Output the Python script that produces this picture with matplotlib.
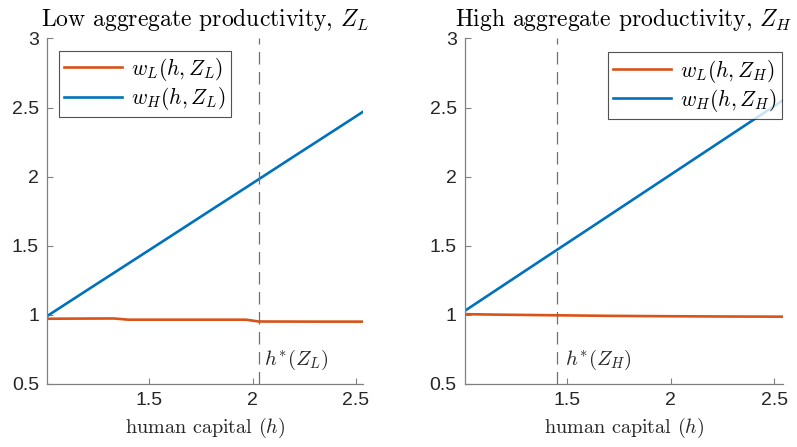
import matplotlib
matplotlib.use("Agg")
import matplotlib.pyplot as plt

plt.rcParams['mathtext.fontset'] = 'cm'
plt.rcParams['axes.formatter.use_mathtext'] = True

# Human capital grids and wages, low aggregate productivity
h_low_L = [1.007, 1.15, 1.33, 1.40, 1.70, 1.97, 2.03, 2.30, 2.534]
wL_low = [0.972, 0.973, 0.974, 0.965, 0.965, 0.965, 0.952, 0.951, 0.951]
h_low_H = [1.007, 1.2, 1.4, 1.6, 1.8, 2.0, 2.2, 2.4, 2.534]
wH_low = [0.992, 1.179, 1.372, 1.565, 1.759, 1.952, 2.146, 2.339, 2.469]
hstar_low = 2.032

# Human capital grids and wages, high aggregate productivity
h_high_L = [1.01, 1.2, 1.45, 1.7, 2.0, 2.3, 2.543]
wL_high = [1.005, 1.001, 0.997, 0.993, 0.990, 0.988, 0.987]
h_high_H = [1.01, 1.2, 1.4, 1.6, 1.8, 2.0, 2.2, 2.4, 2.543]
wH_high = [1.030, 1.219, 1.418, 1.616, 1.815, 2.014, 2.213, 2.412, 2.554]
hstar_high = 1.455

yticks = [0.5, 1, 1.5, 2, 2.5, 3]
xticks = [1.5, 2, 2.5]

ORANGE = '#D95319'
BLUE = '#0072BD'
AXC = '#808080'
TXT = '#262626'

fig = plt.figure(figsize=(7.97, 4.47), dpi=100)
ax1 = fig.add_axes([0.0593, 0.141, 0.396, 0.773])
ax2 = fig.add_axes([0.5834, 0.141, 0.3994, 0.773])

panels = [
    (ax1, h_low_L, wL_low, h_low_H, wH_low, hstar_low, 'L', 'Low', 'upper left', (1.007, 2.534)),
    (ax2, h_high_L, wL_high, h_high_H, wH_high, hstar_high, 'H', 'High', 'upper right', (1.01, 2.543)),
]

for ax, hl, wl, hh, wh, hs, z, name, loc, xl in panels:
    ax.plot(hl, wl, color=ORANGE, lw=1.9, label=r'$w_L(h,Z_%s)$' % z)
    ax.plot(hh, wh, color=BLUE, lw=1.9, label=r'$w_H(h,Z_%s)$' % z)
    ax.axvline(hs, color='#707070', lw=0.9, dashes=(10, 6))
    ax.text(hs + 0.025 if z == 'L' else hs + 0.035, 0.64, r'$h^{*}(Z_%s)$' % z,
            fontsize=15, color=TXT, ha='left', va='baseline')
    ax.set_xlim(*xl)
    ax.set_ylim(0.5, 3)
    ax.set_yticks(yticks)
    ax.set_yticklabels(['0.5', '1', '1.5', '2', '2.5', '3'])
    ax.set_xticks(xticks)
    ax.set_xticklabels(['1.5', '2', '2.5'])
    for s in ['top', 'right']:
        ax.spines[s].set_visible(False)
    for s in ['left', 'bottom']:
        ax.spines[s].set_color(AXC)
        ax.spines[s].set_linewidth(0.9)
    ax.tick_params(direction='in', length=4, width=0.8, color=AXC,
                   labelsize=14, labelcolor=TXT, pad=6)
    for lab in ax.get_xticklabels() + ax.get_yticklabels():
        lab.set_family('Liberation Sans')
    ax.set_title(r'%s aggregate productivity, $Z_%s$' % (name, z),
                 family='cmr10', fontsize=17, color='black', pad=9)
    ax.set_xlabel(r'human capital $(h)$', family='cmr10', fontsize=14.5,
                  color=TXT, labelpad=5)
    leg = ax.legend(loc=loc, fontsize=15.5, frameon=True, fancybox=False,
                    edgecolor='#262626', handlelength=2.7, borderpad=0.25,
                    labelspacing=0.1, handletextpad=0.4, borderaxespad=0,
                    bbox_to_anchor=(0.037, 0.965) if z == 'L' else (0.996, 0.96))
    leg.get_frame().set_linewidth(0.8)

fig.savefig('out.png', dpi=100)
